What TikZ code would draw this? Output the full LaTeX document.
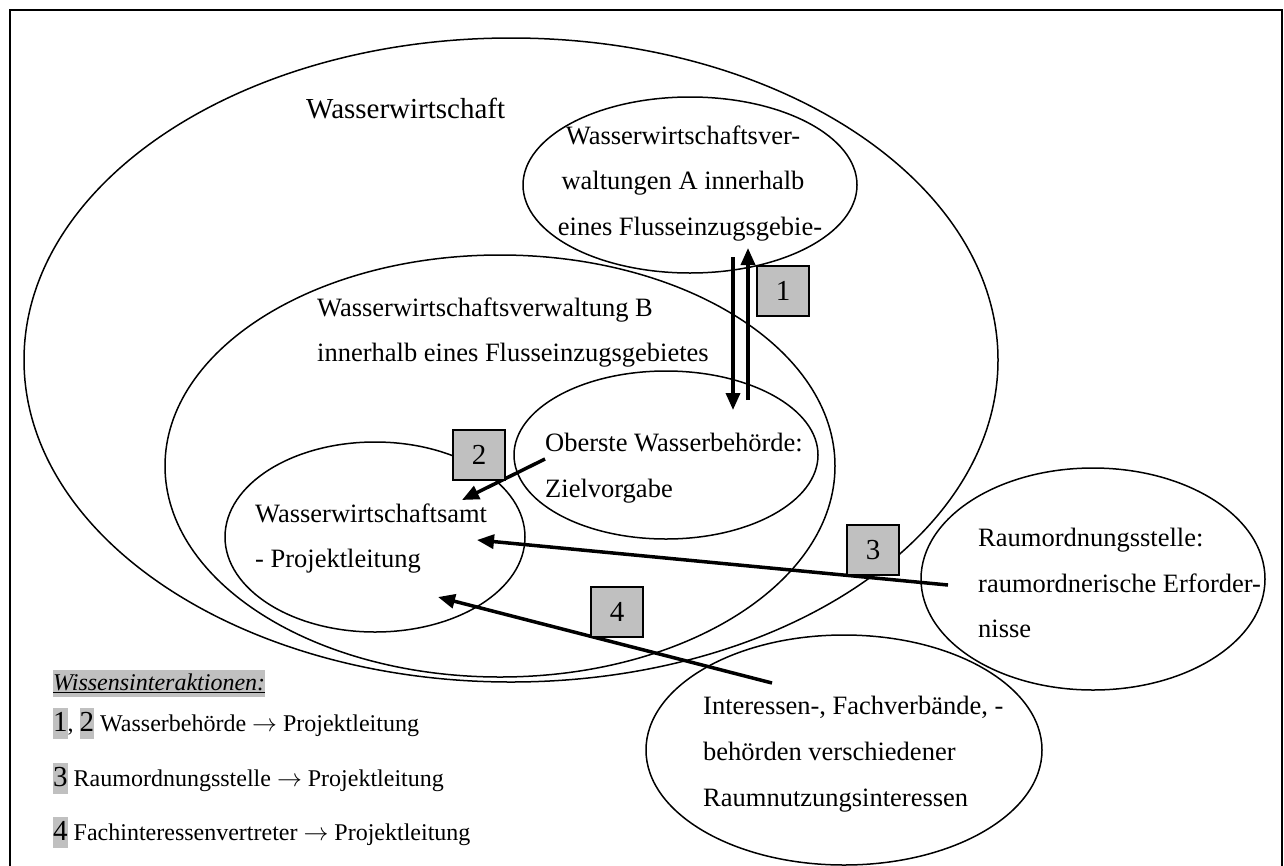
\documentclass[tikz,border=0pt]{standalone}
\usepackage{fontspec}
\setmainfont{Liberation Serif}
\usetikzlibrary{shapes.geometric,arrows.meta}
\definecolor{boxgray}{RGB}{192,192,192}
\newcommand{\hlnum}[1]{{\setlength{\fboxsep}{0pt}\colorbox{boxgray}{\fontsize{29}{29}\selectfont\vrule height 23pt depth 8pt width 0pt #1}}}
\newcommand{\legarrow}{{\fontsize{27}{27}\selectfont$\rightarrow$}}
\begin{document}
\begin{tikzpicture}[x=1pt,y=-1pt,
  ell/.style={draw, ellipse, line width=1.5pt, inner sep=0pt},
  txt/.style={anchor=base west, inner sep=0pt, font=\fontsize{26.5}{30}\selectfont},
  ctxt/.style={anchor=base, inner sep=0pt, font=\fontsize{26.5}{30}\selectfont},
  numbox/.style={draw, fill=boxgray, line width=1.8pt, minimum width=52pt, minimum height=50pt, inner sep=0pt, font=\fontsize{29}{29}\selectfont},
  flow/.style={line width=3.5pt, -{Triangle[length=17pt,width=14pt]}},
  legend/.style={anchor=base west, inner sep=0pt, font=\fontsize{24}{28}\selectfont}]
\useasboundingbox (0,0) rectangle (1284,865);
\clip (0,0) rectangle (1284,865);
\fill[white] (0,0) rectangle (1284,865);
% frame
\draw[line width=2pt] (10,10) rectangle (1282,900);

% areas
\node[ell, minimum width=974pt, minimum height=644pt] (wasser) at (511,360) {};
\node[ell, minimum width=334pt, minimum height=176pt] (verwA) at (690,185) {};
\node[ell, minimum width=670pt, minimum height=422pt] (verwB) at (500,466) {};
\node[ell, minimum width=304pt, minimum height=168pt] (oberste) at (666,455) {};
\node[ell, minimum width=300pt, minimum height=190pt] (amt) at (375,537) {};
\node[ell, minimum width=344pt, minimum height=222pt] (raum) at (1093,579) {};
\node[ell, minimum width=396pt, minimum height=230pt] (interessen) at (844,750) {};

% labels
\node[anchor=base west, inner sep=0pt, font=\fontsize{29}{32}\selectfont] (tW) at (306,118) {Wasserwirtschaft};
\node[ctxt] (tA1) at (683,144) {Wasserwirtschaftsver-};
\node[ctxt] (tA2) at (683,189) {waltungen A innerhalb};
\node[ctxt] (tA3) at (690,235) {eines Flusseinzugsgebie-};
\node[txt] (tB1) at (317,316) {Wasserwirtschaftsverwaltung B};
\node[txt] (tB2) at (317,361) {innerhalb eines Flusseinzugsgebietes};
\node[txt] (tO1) at (545,451) {Oberste Wasserbehörde:};
\node[txt] (tO2) at (545,497) {Zielvorgabe};
\node[txt] (tAmt1) at (255,522) {Wasserwirtschaftsamt};
\node[txt] (tAmt2) at (255,567) {- Projektleitung};
\node[txt] (tR1) at (978,546) {Raumordnungsstelle:};
\node[txt] (tR2) at (978,592) {raumordnerische Erforder-};
\node[txt] (tR3) at (978,637) {nisse};
\node[txt] (tI1) at (703,714) {Interessen-, Fachverbände, -};
\node[txt] (tI2) at (703,760) {behörden verschiedener};
\node[txt] (tI3) at (703,806) {Raumnutzungsinteressen};

% interaction end points
\coordinate (d1s) at (733,257);
\coordinate (d1e) at (733,410);
\coordinate (u1s) at (748,400);
\coordinate (u1e) at (748,248);
\coordinate (f2s) at (545,459);
\coordinate (f2e) at (462,500);
\coordinate (f3s) at (948,585);
\coordinate (f3e) at (477,540);
\coordinate (f4s) at (772,683);
\coordinate (f4e) at (438,597);

\draw[flow] (d1s) -- (d1e);
\draw[flow] (u1s) -- (u1e);
\draw[flow] (f2s) -- (f2e);
\draw[flow] (f3s) -- (f3e);
\draw[flow] (f4s) -- (f4e);

% numbered markers
\node[numbox] (n1) at (783,291) {1};
\node[numbox] (n2) at (479,455) {2};
\node[numbox] (n3) at (873,550) {3};
\node[numbox] (n4) at (617,612) {4};

% legend
\node[legend] (lh) at (53,690) {{\setlength{\fboxsep}{0pt}\colorbox{boxgray}{\vrule height 20pt depth 7pt width 0pt\underline{\itshape Wissensinteraktionen:}}}};
\node[legend] (l1) at (53,731) {\hlnum{1}, \hlnum{2} Wasserbehörde \legarrow{} Projektleitung};
\node[legend] (l3) at (53,786) {\hlnum{3} Raumordnungsstelle \legarrow{} Projektleitung};
\node[legend] (l4) at (53,840) {\hlnum{4} Fachinteressenvertreter \legarrow{} Projektleitung};
\end{tikzpicture}
\end{document}
